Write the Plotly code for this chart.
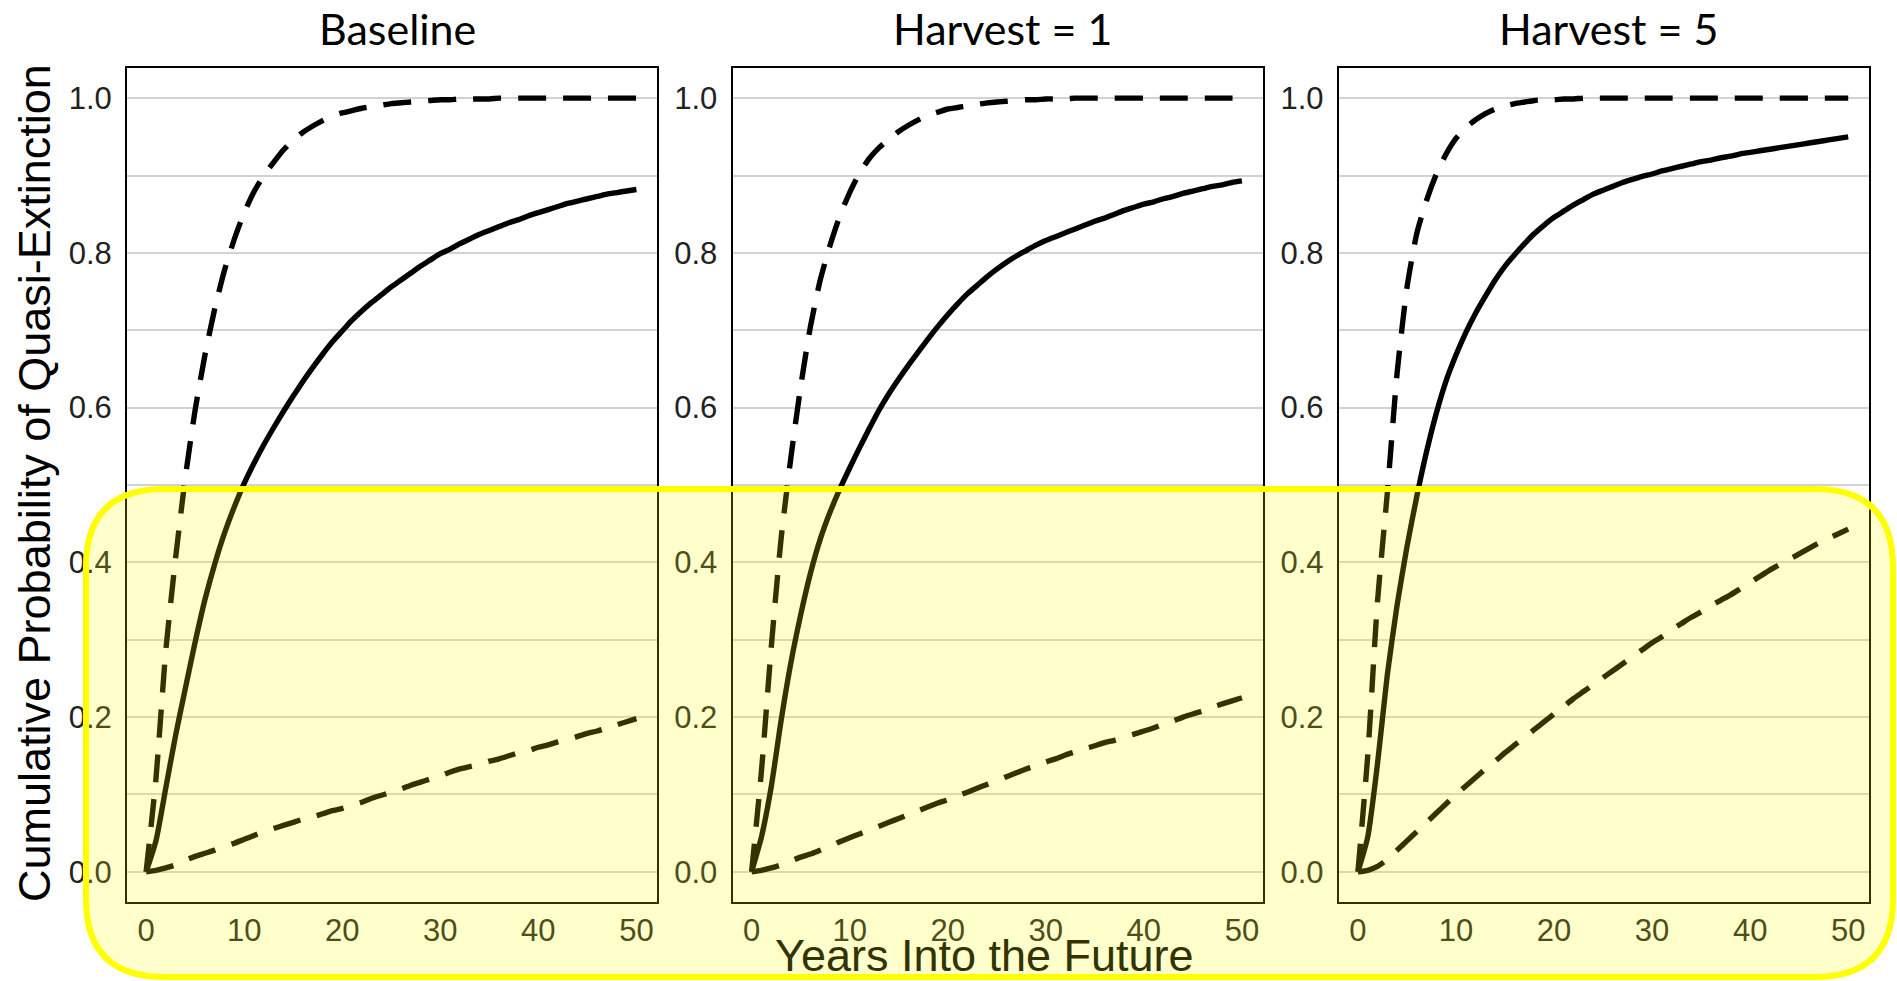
import plotly.graph_objects as go

# ---------------- data ----------------
years = list(range(0, 51))

panel_titles = ["Baseline", "Harvest = 1", "Harvest = 5"]

# Baseline
base_upper = [0.0, 0.12, 0.285, 0.405, 0.51, 0.597, 0.668, 0.728, 0.778, 0.818,
              0.852, 0.879, 0.9, 0.917, 0.933, 0.946, 0.956, 0.964, 0.971, 0.977,
              0.981, 0.984, 0.987, 0.989, 0.991, 0.993, 0.994, 0.995, 0.996, 0.997,
              0.998, 0.998, 0.999, 0.999, 0.999, 0.999, 1.0, 1.0, 1.0, 1.0,
              1.0, 1.0, 1.0, 1.0, 1.0, 1.0, 1.0, 1.0, 1.0, 1.0, 1.0]
base_median = [0.0, 0.04, 0.108, 0.176, 0.237, 0.297, 0.352, 0.398, 0.438, 0.472,
               0.502, 0.528, 0.552, 0.574, 0.595, 0.615, 0.634, 0.652, 0.669, 0.685,
               0.699, 0.713, 0.725, 0.736, 0.746, 0.756, 0.765, 0.774, 0.783, 0.791,
               0.799, 0.805, 0.812, 0.818, 0.824, 0.829, 0.834, 0.839, 0.843, 0.848,
               0.852, 0.856, 0.86, 0.864, 0.867, 0.87, 0.873, 0.876, 0.878, 0.88, 0.882]
base_lower = [0.0, 0.002, 0.005, 0.009, 0.015, 0.02, 0.024, 0.028, 0.033, 0.037,
              0.042, 0.047, 0.052, 0.056, 0.06, 0.064, 0.068, 0.071, 0.075, 0.079,
              0.082, 0.086, 0.09, 0.095, 0.099, 0.103, 0.107, 0.112, 0.116, 0.12,
              0.124, 0.129, 0.133, 0.136, 0.139, 0.143, 0.146, 0.15, 0.154, 0.157,
              0.161, 0.164, 0.168, 0.171, 0.175, 0.179, 0.182, 0.186, 0.19, 0.194, 0.198]

# Harvest = 1
h1_upper = [0.0, 0.13, 0.29, 0.43, 0.535, 0.627, 0.705, 0.765, 0.81, 0.848,
            0.878, 0.903, 0.922, 0.936, 0.947, 0.957, 0.965, 0.972, 0.978, 0.982,
            0.986, 0.988, 0.99, 0.992, 0.994, 0.995, 0.996, 0.997, 0.998, 0.998,
            0.999, 0.999, 0.999, 1.0, 1.0, 1.0, 1.0, 1.0, 1.0, 1.0,
            1.0, 1.0, 1.0, 1.0, 1.0, 1.0, 1.0, 1.0, 1.0, 1.0, 1.0]
h1_median = [0.0, 0.045, 0.11, 0.195, 0.27, 0.332, 0.386, 0.43, 0.465, 0.495,
             0.522, 0.548, 0.573, 0.597, 0.618, 0.637, 0.655, 0.672, 0.689, 0.705,
             0.72, 0.734, 0.747, 0.758, 0.769, 0.779, 0.788, 0.796, 0.803, 0.81,
             0.816, 0.821, 0.826, 0.831, 0.836, 0.841, 0.845, 0.85, 0.855, 0.859,
             0.863, 0.866, 0.87, 0.873, 0.877, 0.88, 0.883, 0.886, 0.888, 0.891, 0.893]
h1_lower = [0.0, 0.002, 0.005, 0.009, 0.014, 0.019, 0.023, 0.028, 0.033, 0.039,
            0.044, 0.049, 0.054, 0.059, 0.064, 0.069, 0.074, 0.079, 0.084, 0.089,
            0.093, 0.098, 0.103, 0.108, 0.113, 0.118, 0.123, 0.128, 0.133, 0.137,
            0.142, 0.146, 0.151, 0.155, 0.159, 0.163, 0.167, 0.17, 0.174, 0.178,
            0.182, 0.186, 0.191, 0.195, 0.2, 0.204, 0.208, 0.213, 0.217, 0.221, 0.225]

# Harvest = 5
h5_upper = [0.0, 0.15, 0.35, 0.49, 0.645, 0.755, 0.825, 0.868, 0.902, 0.928,
            0.948, 0.962, 0.972, 0.98, 0.986, 0.99, 0.993, 0.995, 0.997, 0.998,
            0.998, 0.999, 0.999, 1.0, 1.0, 1.0, 1.0, 1.0, 1.0, 1.0,
            1.0, 1.0, 1.0, 1.0, 1.0, 1.0, 1.0, 1.0, 1.0, 1.0,
            1.0, 1.0, 1.0, 1.0, 1.0, 1.0, 1.0, 1.0, 1.0, 1.0, 1.0]
h5_median = [0.0, 0.045, 0.14, 0.255, 0.345, 0.42, 0.485, 0.543, 0.593, 0.635,
             0.668, 0.697, 0.722, 0.744, 0.765, 0.783, 0.798, 0.812, 0.825, 0.836,
             0.846, 0.854, 0.862, 0.869, 0.876, 0.881, 0.886, 0.891, 0.895, 0.899,
             0.902, 0.906, 0.909, 0.912, 0.915, 0.918, 0.92, 0.923, 0.925, 0.928,
             0.93, 0.932, 0.934, 0.936, 0.938, 0.94, 0.942, 0.944, 0.946, 0.948, 0.95]
h5_lower = [0.0, 0.002, 0.007, 0.016, 0.028, 0.04, 0.052, 0.064, 0.076, 0.088,
            0.1, 0.111, 0.122, 0.133, 0.143, 0.154, 0.164, 0.174, 0.184, 0.194,
            0.204, 0.214, 0.224, 0.233, 0.242, 0.251, 0.26, 0.269, 0.278, 0.287,
            0.296, 0.304, 0.313, 0.321, 0.329, 0.336, 0.344, 0.351, 0.358, 0.366,
            0.374, 0.382, 0.39, 0.397, 0.404, 0.411, 0.418, 0.425, 0.431, 0.437, 0.443]

x_tick_vals = [0, 10, 20, 30, 40, 50]
x_tick_text = ["0", "10", "20", "30", "40", "50"]
y_tick_vals = [0.0, 0.2, 0.4, 0.6, 0.8, 1.0]
y_tick_text = ["0.0", "0.2", "0.4", "0.6", "0.8", "1.0"]
y_minor_vals = [0.1, 0.3, 0.5, 0.7, 0.9]

y_title = "Cumulative Probability of Quasi-Extinction"
x_title = "Years Into the Future"

# ---------------- layout geometry (pixels) ----------------
W, H = 1897, 981
panel_px = [(127, 657), (732.5, 1262.5), (1338.8, 1868.8)]
panel_top, panel_bottom = 68, 902

panels = [
    (base_upper, base_median, base_lower),
    (h1_upper, h1_median, h1_lower),
    (h5_upper, h5_median, h5_lower),
]

fig = go.Figure()
dash_pat = "28px,17px"
for i, (up, med, lo) in enumerate(panels):
    sfx = "" if i == 0 else str(i + 1)
    for ys, dash in [(up, dash_pat), (med, "solid"), (lo, dash_pat)]:
        fig.add_trace(go.Scatter(
            x=years, y=ys, mode="lines",
            line=dict(color="black", width=5.4, dash=dash, shape="spline", smoothing=0.6),
            xaxis="x" + sfx, yaxis="y" + sfx, showlegend=False,
            hoverinfo="skip"))

tick_font = dict(family="Liberation Sans, Arial, sans-serif", size=31, color="#222222")
ydom = [1 - panel_bottom / H, 1 - panel_top / H]
layout = dict(
    width=W, height=H,
    margin=dict(l=0, r=0, t=0, b=0),
    paper_bgcolor="white", plot_bgcolor="white",
    showlegend=False,
)
for i, (l, r) in enumerate(panel_px):
    sfx = "" if i == 0 else str(i + 1)
    layout["xaxis" + sfx] = dict(
        domain=[l / W, r / W], range=[-1.95, 52.1], anchor="y" + sfx,
        tickmode="array", tickvals=x_tick_vals, ticktext=x_tick_text,
        showgrid=False, zeroline=False, showline=True, mirror=True,
        linecolor="black", linewidth=2, ticks="", tickfont=tick_font,
        ticklabelstandoff=0, automargin=False, fixedrange=True)
    layout["yaxis" + sfx] = dict(
        domain=ydom, range=[-0.039, 1.039], anchor="x" + sfx,
        tickmode="array", tickvals=y_tick_vals, ticktext=y_tick_text,
        showgrid=True, gridcolor="#D2D2D2", gridwidth=2,
        minor=dict(tickmode="array", tickvals=y_minor_vals, showgrid=True,
                   gridcolor="#D2D2D2", gridwidth=2, ticks=""),
        zeroline=False, showline=True, mirror=True,
        linecolor="black", linewidth=2, ticks="", tickfont=tick_font,
        ticklabelstandoff=7, automargin=False, fixedrange=True)

annotations = []
for i, (l, r) in enumerate(panel_px):
    annotations.append(dict(
        text=panel_titles[i], x=((l + r) / 2 + 5) / W, y=1 - 28.5 / H,
        xref="paper", yref="paper", xanchor="center", yanchor="middle",
        showarrow=False, font=dict(family="Lato, Noto Sans, sans-serif", size=43, color="black")))
annotations.append(dict(
    text=y_title, x=34 / W, y=1 - 483 / H, xref="paper", yref="paper",
    xanchor="center", yanchor="middle", textangle=-90, showarrow=False,
    font=dict(family="Liberation Sans, Arial, sans-serif", size=45, color="black")))
annotations.append(dict(
    text=x_title, x=985 / W, y=1 - 955 / H, xref="paper", yref="paper",
    xanchor="center", yanchor="middle", showarrow=False,
    font=dict(family="Liberation Sans, Arial, sans-serif", size=45, color="#333300")))
layout["annotations"] = annotations

# highlight rounded rectangle (pixel geometry -> paper coords)
x0, x1, y0, y1, rad = 86, 1893, 489, 977, 78
def P(px, py):
    return f"{px / W:.5f},{1 - py / H:.5f}"
path = (f"M {P(x0 + rad, y0)} L {P(x1 - rad, y0)} Q {P(x1, y0)} {P(x1, y0 + rad)} "
        f"L {P(x1, y1 - rad)} Q {P(x1, y1)} {P(x1 - rad, y1)} "
        f"L {P(x0 + rad, y1)} Q {P(x0, y1)} {P(x0, y1 - rad)} "
        f"L {P(x0, y0 + rad)} Q {P(x0, y0)} {P(x0 + rad, y0)} Z")
layout["shapes"] = [dict(type="path", path=path, xref="paper", yref="paper",
                         fillcolor="rgba(255,255,0,0.2)",
                         line=dict(color="#FFFF00", width=6), layer="above")]

fig.update_layout(**layout)
fig.write_html("out.html", config={"displayModeBar": False},
               post_script="document.body.style.margin='0';document.body.style.overflow='hidden';")
